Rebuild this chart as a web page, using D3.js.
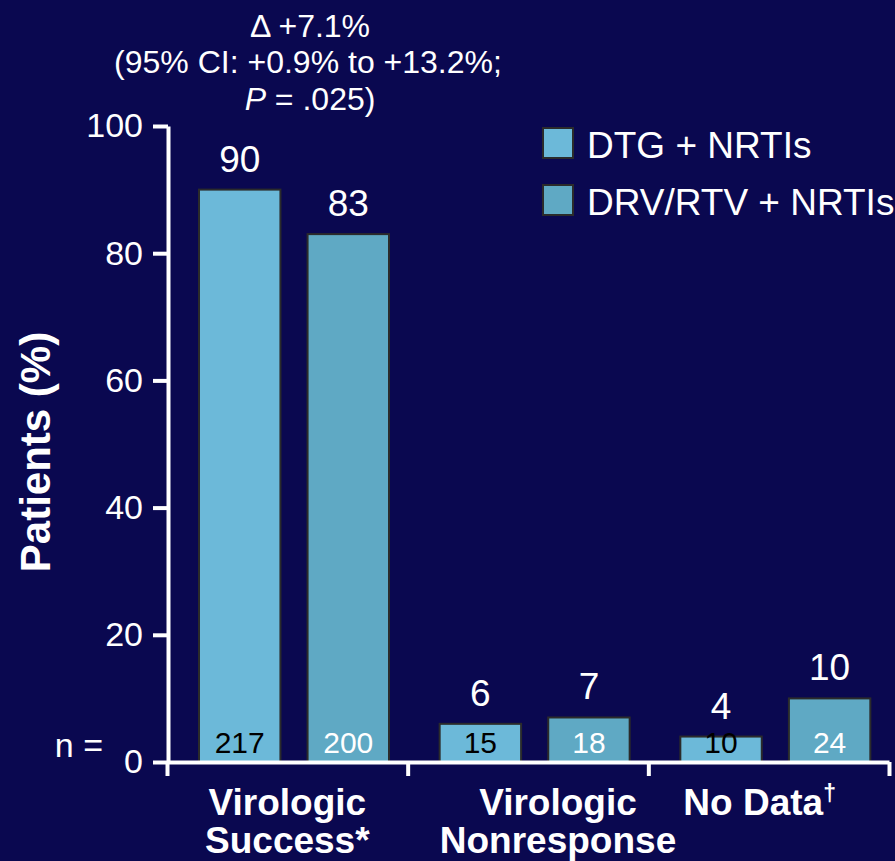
<!DOCTYPE html>
<html>
<head>
<meta charset="utf-8">
<script src="https://cdn.jsdelivr.net/npm/d3@7"></script>
<style>
  html, body { margin: 0; padding: 0; background: #0a0850; }
  svg { display: block; }
  text { font-family: "Liberation Sans", Arial, Helvetica, sans-serif; fill: #ffffff; }
</style>
</head>
<body>
<svg id="chart" width="895" height="861"></svg>
<script>
// Week 48 snapshot outcomes, % of patients per arm
const categories = ["Virologic Success*", "Virologic Nonresponse", "No Data†"];
const categoryLines = [["Virologic", "Success*"], ["Virologic", "Nonresponse"], ["No Data", "†"]];
const series = ["DTG + NRTIs", "DRV/RTV + NRTIs"];
const dtgPercent = [90, 6, 4];
const drvPercent = [83, 7, 10];
const dtgCount = [217, 15, 10];
const drvCount = [200, 18, 24];
const yTicks = [0, 20, 40, 60, 80, 100];
const diffLines = ["Δ +7.1%", "(95% CI: +0.9% to +13.2%;", "P = .025)"];

const W = 895, H = 861;
const plot = { left: 168, right: 889, top: 126, bottom: 762 };
const colors = { "DTG + NRTIs": "#6cb9d9", "DRV/RTV + NRTIs": "#5fa9c4" };
const countColors = { "DTG + NRTIs": "#000000", "DRV/RTV + NRTIs": "#ffffff" };
// horizontal nudges for the category captions
const captionShift = [0, 30, -9];

const svg = d3.select("#chart");
svg.append("rect").attr("width", W).attr("height", H).attr("fill", "#0a0850");

const rows = categories.map((c, i) => ({
  category: c,
  values: [
    { key: series[0], pct: dtgPercent[i], n: dtgCount[i] },
    { key: series[1], pct: drvPercent[i], n: drvCount[i] }
  ]
}));

const y = d3.scaleLinear().domain([0, 100]).range([plot.bottom, plot.top]);
const x0 = d3.scaleBand().domain(categories).range([plot.left - 1, plot.right]).paddingInner(0);
const x1 = d3.scaleBand().domain(series).range([32, 222]).paddingInner(0.25);

// bars
const groups = svg.append("g").selectAll("g").data(rows).join("g")
  .attr("transform", d => `translate(${x0(d.category)},0)`);

groups.selectAll("rect").data(d => d.values).join("rect")
  .attr("x", d => x1(d.key))
  .attr("y", d => y(d.pct))
  .attr("width", x1.bandwidth())
  .attr("height", d => y(0) - y(d.pct))
  .attr("fill", d => colors[d.key])
  .attr("stroke", "#2b2b2b")
  .attr("stroke-width", 2);

// percentage above bars
groups.selectAll("text.pct").data(d => d.values).join("text")
  .attr("class", "pct")
  .attr("x", d => x1(d.key) + x1.bandwidth() / 2)
  .attr("y", d => y(d.pct) - 18)
  .attr("text-anchor", "middle")
  .attr("font-size", 37)
  .text(d => d.pct);

// patient counts inside bars
groups.selectAll("text.n").data(d => d.values).join("text")
  .attr("class", "n")
  .attr("x", d => x1(d.key) + x1.bandwidth() / 2)
  .attr("y", y(0) - 9)
  .attr("text-anchor", "middle")
  .attr("font-size", 30)
  .style("fill", d => countColors[d.key])
  .text(d => d.n);

// y axis
const yAxis = svg.append("g")
  .attr("transform", `translate(${plot.left},0)`)
  .call(d3.axisLeft(y).tickValues(yTicks).tickSize(15).tickSizeOuter(0).tickPadding(10));
yAxis.selectAll("path, line").attr("stroke", "#ffffff").attr("stroke-width", 4);
yAxis.selectAll("text").attr("font-size", 34).style("fill", "#ffffff")
  .attr("font-family", "Liberation Sans, Arial, sans-serif");

// x axis with ticks at the category boundaries
const xb = d3.scaleLinear().domain([0, categories.length]).range([plot.left - 1, plot.right]);
const xAxis = svg.append("g")
  .attr("transform", `translate(0,${plot.bottom})`)
  .call(d3.axisBottom(xb).tickValues(d3.range(categories.length + 1)).tickSize(14).tickSizeOuter(0).tickFormat(""));
xAxis.selectAll("path, line").attr("stroke", "#ffffff").attr("stroke-width", 4);

// category captions
categoryLines.forEach((lines, i) => {
  const cx = x0(categories[i]) + x0.bandwidth() / 2 + captionShift[i];
  if (i === 2) {
    const t = svg.append("text").attr("x", cx).attr("y", 815)
      .attr("text-anchor", "middle").attr("font-size", 37).attr("font-weight", "bold");
    t.append("tspan").text(lines[0]);
    t.append("tspan").attr("font-size", 23).attr("dy", -14).text(lines[1]);
  } else {
    lines.forEach((s, j) => {
      svg.append("text").attr("x", cx).attr("y", 815 + j * 38)
        .attr("text-anchor", "middle").attr("font-size", 37).attr("font-weight", "bold")
        .text(s);
    });
  }
});

// "n =" row label
svg.append("text").attr("x", 103).attr("y", 757).attr("text-anchor", "end")
  .attr("font-size", 34).text("n =");

// y axis title
svg.append("text")
  .attr("transform", "translate(50,452) rotate(-90)")
  .attr("text-anchor", "middle")
  .attr("font-size", 42).attr("font-weight", "bold")
  .text("Patients (%)");

// treatment difference annotation
const ann = svg.append("g").attr("font-size", 32);
ann.append("text").attr("x", 310).attr("y", 37).attr("text-anchor", "middle").attr("font-size", 32).text(diffLines[0]);
ann.append("text").attr("x", 308).attr("y", 73).attr("text-anchor", "middle").attr("font-size", 32).text(diffLines[1]);
const p = ann.append("text").attr("x", 310).attr("y", 110).attr("text-anchor", "middle").attr("font-size", 32);
p.append("tspan").attr("font-style", "italic").text(diffLines[2].slice(0, 1));
p.append("tspan").text(diffLines[2].slice(1));

// legend
const legend = svg.append("g").selectAll("g").data(series).join("g")
  .attr("transform", (d, i) => `translate(543,${128 + i * 57})`);
legend.append("rect").attr("width", 30).attr("height", 30)
  .attr("fill", d => colors[d]).attr("stroke", "#2b2b2b").attr("stroke-width", 2);
legend.append("text").attr("x", 44).attr("y", 30).attr("font-size", 37).text(d => d);
</script>
</body>
</html>
